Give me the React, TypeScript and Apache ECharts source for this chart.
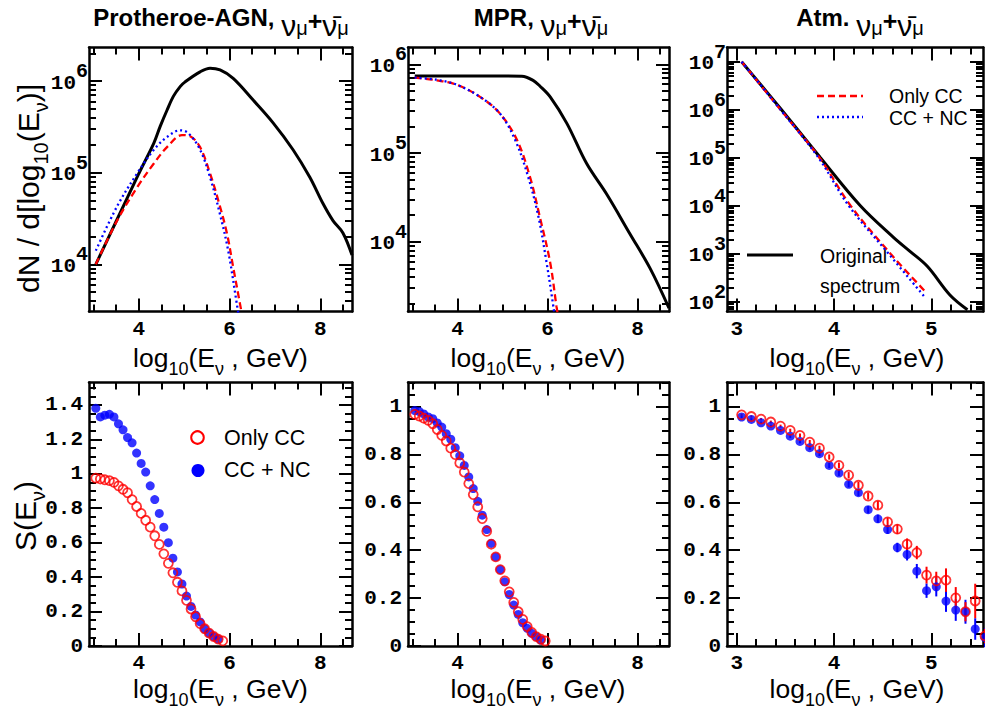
import React, { useEffect, useRef } from "react";
import * as echarts from "echarts";

// ---------------- data ----------------
// Top row: dN / d[log10(E)] spectra (x = log10(E / GeV))
const agnOrigX = [3.05, 3.5, 4.0, 4.33, 4.47, 4.62, 4.76, 4.91, 5.02, 5.35, 5.57, 5.79, 6.08, 6.52, 6.96, 7.4, 7.77, 8.06, 8.28, 8.5, 8.7];
const agnOrigN = [1.0e4, 2.95e4, 9.8e4, 2.1e5, 3.2e5, 4.8e5, 6.8e5, 8.7e5, 9.8e5, 1.26e6, 1.38e6, 1.32e6, 1.07e6, 6.2e5, 3.5e5, 1.78e5, 8.9e4, 4.6e4, 3.0e4, 2.2e4, 1.26e4];
const agnOnlyCCX = [3.05, 3.52, 3.96, 4.33, 4.62, 4.95, 5.13, 5.35, 5.57, 5.75, 5.94, 6.08, 6.23, 6.3];
const agnOnlyCCN = [1.0e4, 3.0e4, 6.9e4, 1.26e5, 1.9e5, 2.57e5, 2.5e5, 1.9e5, 9.8e4, 5.0e4, 2.2e4, 9.3e3, 3.7e3, 2.4e3];
const agnCCNCX = [3.05, 3.52, 3.96, 4.33, 4.62, 4.91, 5.09, 5.35, 5.57, 5.79, 5.97, 6.16, 6.22];
const agnCCNCN = [1.41e4, 4.3e4, 9.8e4, 1.78e5, 2.45e5, 2.9e5, 2.7e5, 1.78e5, 8.9e4, 3.5e4, 1.41e4, 3.7e3, 2.4e3];

const mprOrigX = [3.05, 4.0, 5.0, 5.43, 5.68, 5.83, 6.06, 6.43, 6.87, 7.32, 7.83, 8.28, 8.7];
const mprOrigN = [7.4e5, 7.4e5, 7.4e5, 7.35e5, 6.6e5, 5.7e5, 4.3e5, 2.16e5, 7.6e4, 3.4e4, 1.23e4, 5.0e3, 1.78e3];
const mprOnlyCCX = [3.05, 3.54, 3.98, 4.5, 4.94, 5.32, 5.61, 5.83, 6.06, 6.2, 6.25];
const mprOnlyCCN = [7.1e5, 6.6e5, 5.9e5, 4.3e5, 2.8e5, 1.41e5, 5.4e4, 1.9e4, 5.8e3, 1.86e3, 1.3e3];
const mprCCNCX = [3.05, 3.54, 3.98, 4.5, 4.94, 5.28, 5.57, 5.8, 5.98, 6.13, 6.17];
const mprCCNCN = [7.1e5, 6.7e5, 5.9e5, 4.3e5, 2.8e5, 1.41e5, 5.4e4, 1.9e4, 5.8e3, 1.86e3, 1.3e3];

const atmOrigX = [3.05, 3.46, 3.86, 4.27, 4.61, 4.78, 4.96, 5.19, 5.37];
const atmOrigN = [1.0e7, 1.0e6, 1.0e5, 1.0e4, 2.2e3, 1.12e3, 5.4e2, 1.38e2, 68];
const atmOnlyCCX = [3.05, 3.45, 3.85, 4.17, 4.58, 4.94];
const atmOnlyCCN = [1.0e7, 1.0e6, 1.0e5, 1.0e4, 1.0e3, 1.6e2];
const atmCCNCX = [3.05, 3.45, 3.84, 4.15, 4.56, 4.93];
const atmCCNCN = [1.0e7, 1.0e6, 1.0e5, 1.0e4, 1.0e3, 1.26e2];

// Bottom row: S(E)
const agnSOnlyCCX = [3.05, 3.15, 3.25, 3.35, 3.45, 3.55, 3.65, 3.75, 3.85, 3.95, 4.05, 4.15, 4.25, 4.35, 4.45, 4.55, 4.65, 4.75, 4.85, 4.95, 5.05, 5.15, 5.25, 5.35, 5.45, 5.55, 5.65, 5.75, 5.85];
const agnSOnlyCC = [0.975, 0.97, 0.965, 0.96, 0.95, 0.93, 0.91, 0.89, 0.85, 0.81, 0.77, 0.73, 0.69, 0.64, 0.59, 0.535, 0.48, 0.425, 0.37, 0.32, 0.265, 0.215, 0.17, 0.13, 0.1, 0.075, 0.055, 0.04, 0.03];
const agnSCCNCX = [3.05, 3.15, 3.25, 3.35, 3.45, 3.55, 3.65, 3.75, 3.85, 3.95, 4.05, 4.15, 4.25, 4.35, 4.45, 4.55, 4.65, 4.75, 4.85, 4.95, 5.05, 5.15, 5.25, 5.35, 5.45, 5.55, 5.65, 5.75];
const agnSCCNC = [1.38, 1.33, 1.34, 1.345, 1.33, 1.29, 1.255, 1.21, 1.18, 1.12, 1.06, 1.01, 0.93, 0.85, 0.77, 0.69, 0.6, 0.51, 0.43, 0.36, 0.29, 0.23, 0.18, 0.14, 0.1, 0.075, 0.055, 0.04];

const mprSOnlyCCX = [3.05, 3.15, 3.25, 3.35, 3.45, 3.55, 3.65, 3.75, 3.85, 3.95, 4.05, 4.15, 4.25, 4.35, 4.45, 4.55, 4.65, 4.75, 4.85, 4.95, 5.05, 5.15, 5.25, 5.35, 5.45, 5.55, 5.65, 5.75, 5.85, 5.95];
const mprSOnlyCC = [0.967, 0.96, 0.951, 0.942, 0.928, 0.904, 0.879, 0.856, 0.826, 0.799, 0.764, 0.726, 0.678, 0.632, 0.581, 0.532, 0.479, 0.425, 0.372, 0.319, 0.272, 0.226, 0.182, 0.143, 0.111, 0.081, 0.057, 0.039, 0.028, 0.021];
const mprSCCNCX = [3.05, 3.15, 3.25, 3.35, 3.45, 3.55, 3.65, 3.75, 3.85, 3.95, 4.05, 4.15, 4.25, 4.35, 4.45, 4.55, 4.65, 4.75, 4.85, 4.95, 5.05, 5.15, 5.25, 5.35, 5.45, 5.55, 5.65, 5.75, 5.85];
const mprSCCNC = [0.983, 0.979, 0.969, 0.956, 0.949, 0.931, 0.914, 0.886, 0.863, 0.828, 0.794, 0.754, 0.706, 0.657, 0.604, 0.546, 0.486, 0.428, 0.372, 0.319, 0.268, 0.215, 0.171, 0.132, 0.097, 0.074, 0.053, 0.039, 0.025];

const atmSX = [3.05, 3.15, 3.25, 3.35, 3.45, 3.55, 3.65, 3.75, 3.85, 3.95, 4.05, 4.15, 4.25, 4.35, 4.45, 4.55, 4.65, 4.75, 4.85, 4.95, 5.05, 5.15, 5.25, 5.35, 5.45, 5.55];
const atmSOnlyCC = [0.965, 0.958, 0.947, 0.935, 0.918, 0.9, 0.879, 0.851, 0.826, 0.789, 0.754, 0.713, 0.671, 0.626, 0.588, 0.518, 0.488, 0.425, 0.39, 0.296, 0.272, 0.275, 0.201, 0.143, 0.188, 0.042];
const atmSOnlyCCErr = [0.005, 0.005, 0.005, 0.006, 0.006, 0.007, 0.008, 0.009, 0.01, 0.011, 0.012, 0.013, 0.014, 0.015, 0.017, 0.018, 0.02, 0.024, 0.028, 0.035, 0.038, 0.049, 0.045, 0.04, 0.072, 0.03];
const atmSCCNC = [0.956, 0.946, 0.932, 0.918, 0.9, 0.876, 0.854, 0.828, 0.803, 0.754, 0.722, 0.675, 0.64, 0.569, 0.531, 0.486, 0.411, 0.382, 0.3125, 0.231, 0.247, 0.1875, 0.15, 0.143, 0.071, 0.035];
const atmSCCNCErr = [0.005, 0.005, 0.005, 0.006, 0.006, 0.007, 0.008, 0.009, 0.01, 0.011, 0.012, 0.013, 0.014, 0.015, 0.017, 0.018, 0.02, 0.025, 0.03, 0.03, 0.04, 0.045, 0.045, 0.05, 0.045, 0.04];

// Tick values
const wideXMajor = [4, 6, 8];
const wideXMinor = [3, 3.5, 4.5, 5, 5.5, 6.5, 7, 7.5, 8.5];
const atmXMajor = [3, 4, 5];
const atmXMinor = [3.2, 3.4, 3.6, 3.8, 4.2, 4.4, 4.6, 4.8, 5.2, 5.4];
const sMajorTall = [0, 0.2, 0.4, 0.6, 0.8, 1, 1.2, 1.4];
const sMajorShort = [0, 0.2, 0.4, 0.6, 0.8, 1];

// ---------------- styling ----------------
const SANS = "'Liberation Sans', Arial, Helvetica, sans-serif";
const MONO = "'Liberation Mono', 'DejaVu Sans Mono', monospace";
const RED = "#ff0000";
const BLUE = "#0000ff";

function logMajor(lo: number, hi: number) {
  const out: number[] = [];
  for (let n = Math.ceil(lo); n <= hi; n++) out.push(n);
  return out;
}
function logMinor(lo: number, hi: number) {
  const out: number[] = [];
  for (let n = Math.floor(lo); n <= Math.ceil(hi); n++) {
    for (let k = 2; k <= 9; k++) {
      const v = n + Math.log10(k);
      if (v >= lo && v <= hi) out.push(v);
    }
  }
  return out;
}
function linMinor(hi: number) {
  const out: number[] = [];
  for (let i = 0; i * 0.05 <= hi + 1e-9; i++) {
    if (i % 4 !== 0) out.push(Math.round(i * 5) / 100);
  }
  return out;
}

type Panel = {
  left: number; top: number; width: number; height: number;
  xMin: number; xMax: number; yMin: number; yMax: number;
  xMajor: number[]; xMinor: number[]; yMajor: number[]; yMinor: number[];
  logY: boolean;
};

const panels: Panel[] = [
  { left: 89, top: 47.5, width: 263, height: 264, xMin: 2.9, xMax: 8.7, yMin: 3.485, yMax: 6.366, xMajor: wideXMajor, xMinor: wideXMinor, yMajor: logMajor(3.485, 6.366), yMinor: logMinor(3.485, 6.366), logY: true },
  { left: 408, top: 47.5, width: 261, height: 264, xMin: 2.9, xMax: 8.7, yMin: 3.213, yMax: 6.19, xMajor: wideXMajor, xMinor: wideXMinor, yMajor: logMajor(3.213, 6.19), yMinor: logMinor(3.213, 6.19), logY: true },
  { left: 727, top: 47.5, width: 256, height: 264, xMin: 2.9, xMax: 5.53, yMin: 1.796, yMax: 7.296, xMajor: atmXMajor, xMinor: atmXMinor, yMajor: logMajor(1.796, 7.296), yMinor: logMinor(1.796, 7.296), logY: true },
  { left: 89, top: 382.5, width: 263, height: 263.5, xMin: 2.9, xMax: 8.7, yMin: 0, yMax: 1.53, xMajor: wideXMajor, xMinor: wideXMinor, yMajor: sMajorTall, yMinor: linMinor(1.53), logY: false },
  { left: 408, top: 382.5, width: 261, height: 263.5, xMin: 2.9, xMax: 8.7, yMin: 0, yMax: 1.1, xMajor: wideXMajor, xMinor: wideXMinor, yMajor: sMajorShort, yMinor: linMinor(1.1), logY: false },
  { left: 727, top: 382.5, width: 256, height: 263.5, xMin: 2.9, xMax: 5.53, yMin: 0, yMax: 1.1, xMajor: atmXMajor, xMinor: atmXMinor, yMajor: sMajorShort, yMinor: linMinor(1.1), logY: false },
];

const axisBase = (pi: number) => pi * 4;

const AXIS_LINE = { color: "#000", width: 2.5 };
const TICK = { color: "#000", width: 2 };
const MAJOR_LEN = 13;
const MINOR_LEN = 7;

function buildAxes(p: Panel, pi: number) {
  const xAxes: any[] = [];
  const yAxes: any[] = [];
  const baseX = { gridIndex: pi, type: "value", min: p.xMin, max: p.xMax, splitLine: { show: false } };
  const baseY = { gridIndex: pi, type: "value", min: p.yMin, max: p.yMax, splitLine: { show: false } };
  const tickLabel = { fontFamily: MONO, fontWeight: "bold", fontSize: 21, color: "#000" };
  xAxes.push({
    ...baseX, position: "bottom",
    axisLine: { show: true, onZero: false, lineStyle: AXIS_LINE },
    axisTick: { show: true, inside: true, length: MAJOR_LEN, customValues: p.xMajor, lineStyle: TICK },
    axisLabel: { show: true, customValues: p.xMajor, margin: 9.5, lineHeight: 16, ...tickLabel, formatter: (v: number) => String(v) },
  });
  xAxes.push({
    ...baseX, position: "bottom",
    axisLine: { show: false, onZero: false },
    axisTick: { show: true, inside: true, length: MINOR_LEN, customValues: p.xMinor, lineStyle: TICK },
    axisLabel: { show: false },
  });
  xAxes.push({
    ...baseX, position: "top",
    axisLine: { show: true, onZero: false, lineStyle: AXIS_LINE },
    axisTick: { show: true, inside: true, length: MAJOR_LEN, customValues: p.xMajor, lineStyle: TICK },
    axisLabel: { show: false },
  });
  xAxes.push({
    ...baseX, position: "top",
    axisLine: { show: false, onZero: false },
    axisTick: { show: true, inside: true, length: MINOR_LEN, customValues: p.xMinor, lineStyle: TICK },
    axisLabel: { show: false },
  });

  const yLabel = p.logY
    ? {
        show: true, customValues: p.yMajor, margin: 1,
        formatter: (v: number) => `{b|10}{s|${Math.round(v)}}`,
        rich: {
          b: { fontFamily: MONO, fontWeight: "bold", fontSize: 21, lineHeight: 39, padding: [11, 0, 0, 0], verticalAlign: "top", color: "#000" },
          s: { fontFamily: MONO, fontWeight: "bold", fontSize: 20, lineHeight: 39, verticalAlign: "top", color: "#000" },
        },
      }
    : {
        show: true, customValues: p.yMajor, margin: 6, ...tickLabel,
        formatter: (v: number) => String(Math.round(v * 10) / 10),
      };
  yAxes.push({
    ...baseY, position: "left",
    axisLine: { show: true, onZero: false, lineStyle: AXIS_LINE },
    axisTick: { show: true, inside: true, length: MAJOR_LEN, customValues: p.yMajor, lineStyle: TICK },
    axisLabel: yLabel,
  });
  yAxes.push({
    ...baseY, position: "left",
    axisLine: { show: false, onZero: false },
    axisTick: { show: true, inside: true, length: MINOR_LEN, customValues: p.yMinor, lineStyle: TICK },
    axisLabel: { show: false },
  });
  yAxes.push({
    ...baseY, position: "right",
    axisLine: { show: true, onZero: false, lineStyle: AXIS_LINE },
    axisTick: { show: true, inside: true, length: MAJOR_LEN, customValues: p.yMajor, lineStyle: TICK },
    axisLabel: { show: false },
  });
  yAxes.push({
    ...baseY, position: "right",
    axisLine: { show: false, onZero: false },
    axisTick: { show: true, inside: true, length: MINOR_LEN, customValues: p.yMinor, lineStyle: TICK },
    axisLabel: { show: false },
  });
  return { xAxes, yAxes };
}

function spectrum(pi: number, xs: number[], ns: number[], kind: "orig" | "cc" | "ccnc") {
  const style =
    kind === "orig"
      ? { color: "#000", width: 3, type: "solid" }
      : kind === "cc"
      ? { color: RED, width: 2.3, type: [7, 4] }
      : { color: BLUE, width: 2.3, type: [2, 3] };
  return {
    type: "line", xAxisIndex: axisBase(pi), yAxisIndex: axisBase(pi),
    data: xs.map((x, i) => [x, Math.log10(ns[i])]),
    showSymbol: false, symbol: "none", smooth: 0.35, silent: true,
    lineStyle: style, z: kind === "orig" ? 2 : kind === "cc" ? 3 : 4,
  };
}

function points(pi: number, xs: number[], ss: number[], kind: "cc" | "ccnc") {
  return {
    type: "scatter", xAxisIndex: axisBase(pi), yAxisIndex: axisBase(pi),
    data: xs.map((x, i) => [x, ss[i]]),
    symbol: "circle", symbolSize: 9, silent: true, clip: false,
    itemStyle:
      kind === "cc"
        ? { color: "rgba(255,255,255,0)", borderColor: RED, borderWidth: 1.8 }
        : { color: BLUE },
    z: kind === "cc" ? 5 : 4,
  };
}

function errorBars(pi: number, xs: number[], ss: number[], es: number[], color: string) {
  return {
    type: "custom", xAxisIndex: axisBase(pi), yAxisIndex: axisBase(pi), silent: true,
    data: xs.map((x, i) => [x, ss[i], es[i]]),
    encode: { x: 0, y: 1 },
    renderItem: (_params: any, api: any) => {
      const x = api.value(0);
      const y = api.value(1);
      const e = api.value(2);
      const a = api.coord([x, y - e]);
      const b = api.coord([x, y + e]);
      return {
        type: "line",
        shape: { x1: a[0], y1: a[1], x2: b[0], y2: b[1] },
        style: { stroke: color, lineWidth: 2 },
      };
    },
    z: 3,
  };
}

const titleRich = {
  b: { fontFamily: SANS, fontWeight: "bold", fontSize: 24, lineHeight: 24, verticalAlign: "top", fill: "#000" },
  n: { fontFamily: SANS, fontSize: 30, lineHeight: 24, padding: [5, 0, 0, 0], verticalAlign: "top", fill: "#000" },
  s: { fontFamily: SANS, fontSize: 20, lineHeight: 20, padding: [13, 0, 0, 0], verticalAlign: "top", fill: "#000" },
  p: { fontFamily: SANS, fontWeight: "bold", fontSize: 25, lineHeight: 24, padding: [3, 0, 0, 0], verticalAlign: "top", fill: "#000" },
};
const xTitleRich = {
  t: { fontFamily: SANS, fontSize: 26.5, lineHeight: 26.5, verticalAlign: "top", fill: "#000" },
  s: { fontFamily: SANS, fontSize: 18, lineHeight: 18, padding: [16, 0, 0, 0], verticalAlign: "top", fill: "#000" },
};
const yTitleRich = {
  t: { fontFamily: SANS, fontSize: 30, lineHeight: 30, verticalAlign: "top", fill: "#000" },
  s: { fontFamily: SANS, fontSize: 20, lineHeight: 20, padding: [18, 0, 0, 0], verticalAlign: "top", fill: "#000" },
};

const xTitle = "{t|log}{s|10}{t|(E}{s|ν}{t| , GeV)}";

function buildGraphics() {
  const g: any[] = [];
  const titles = [
    { x: 221, text: "{b|Protheroe-AGN, }{n|ν}{s|μ}{p|+}{n|ν̄}{s|μ}" },
    { x: 541, text: "{b|MPR, }{n|ν}{s|μ}{p|+}{n|ν̄}{s|μ}" },
    { x: 860, text: "{b|Atm. }{n|ν}{s|μ}{p|+}{n|ν̄}{s|μ}" },
  ];
  titles.forEach((t) =>
    g.push({ type: "text", x: t.x, y: 5, style: { text: t.text, rich: titleRich, align: "center", verticalAlign: "top" } })
  );
  [220.5, 538, 857].forEach((cx) => {
    g.push({ type: "text", x: cx, y: 344, style: { text: xTitle, rich: xTitleRich, align: "center", verticalAlign: "top" } });
    g.push({ type: "text", x: cx, y: 675, style: { text: xTitle, rich: xTitleRich, align: "center", verticalAlign: "top" } });
  });
  g.push({
    type: "text", x: 13, y: 188.5, rotation: Math.PI / 2,
    style: { text: "{t|dN / d[log}{s|10}{t|(E}{s|ν}{t|)]}", rich: yTitleRich, align: "center", verticalAlign: "top" },
  });
  g.push({
    type: "text", x: 10, y: 516, rotation: Math.PI / 2,
    style: { text: "{t|S(E}{s|ν}{t|)}", rich: yTitleRich, align: "center", verticalAlign: "top" },
  });

  // legend, top-right panel
  const legFont = { fontFamily: SANS, fontSize: 19.5, fill: "#000", verticalAlign: "middle", align: "left" };
  g.push({ type: "line", shape: { x1: 817, y1: 96, x2: 863, y2: 96 }, style: { stroke: RED, lineWidth: 2.3, lineDash: [7, 4] } });
  g.push({ type: "text", x: 889, y: 96, style: { text: "Only CC", ...legFont } });
  g.push({ type: "line", shape: { x1: 817, y1: 117, x2: 863, y2: 117 }, style: { stroke: BLUE, lineWidth: 2.3, lineDash: [2, 3] } });
  g.push({ type: "text", x: 889, y: 118, style: { text: "CC + NC", ...legFont } });
  g.push({ type: "line", shape: { x1: 747, y1: 255, x2: 793, y2: 255 }, style: { stroke: "#000", lineWidth: 3 } });
  g.push({ type: "text", x: 820, y: 256, style: { text: "Original", ...legFont } });
  g.push({ type: "text", x: 820, y: 286, style: { text: "spectrum", ...legFont } });

  // legend, bottom-left panel
  const legFont2 = { fontFamily: SANS, fontSize: 21.5, fill: "#000", verticalAlign: "middle", align: "left" };
  g.push({ type: "circle", shape: { cx: 197.5, cy: 437.5, r: 6.3 }, style: { fill: "none", stroke: RED, lineWidth: 2 } });
  g.push({ type: "text", x: 224, y: 438, style: { text: "Only CC", ...legFont2 } });
  g.push({ type: "circle", shape: { cx: 198, cy: 470.5, r: 6.5 }, style: { fill: BLUE } });
  g.push({ type: "text", x: 224, y: 470, style: { text: "CC + NC", ...legFont2 } });
  return g;
}

export default function App() {
  const ref = useRef<HTMLDivElement>(null);
  useEffect(() => {
    if (!ref.current) return;
    const chart = echarts.init(ref.current, undefined, { renderer: "svg" });
    const xAxis: any[] = [];
    const yAxis: any[] = [];
    panels.forEach((p, pi) => {
      const { xAxes, yAxes } = buildAxes(p, pi);
      xAxis.push(...xAxes);
      yAxis.push(...yAxes);
    });
    const series: any[] = [
      spectrum(0, agnOrigX, agnOrigN, "orig"),
      spectrum(0, agnOnlyCCX, agnOnlyCCN, "cc"),
      spectrum(0, agnCCNCX, agnCCNCN, "ccnc"),
      spectrum(1, mprOrigX, mprOrigN, "orig"),
      spectrum(1, mprOnlyCCX, mprOnlyCCN, "cc"),
      spectrum(1, mprCCNCX, mprCCNCN, "ccnc"),
      spectrum(2, atmOrigX, atmOrigN, "orig"),
      spectrum(2, atmOnlyCCX, atmOnlyCCN, "cc"),
      spectrum(2, atmCCNCX, atmCCNCN, "ccnc"),
      points(3, agnSCCNCX, agnSCCNC, "ccnc"),
      points(3, agnSOnlyCCX, agnSOnlyCC, "cc"),
      points(4, mprSCCNCX, mprSCCNC, "ccnc"),
      points(4, mprSOnlyCCX, mprSOnlyCC, "cc"),
      errorBars(5, atmSX, atmSCCNC, atmSCCNCErr, BLUE),
      errorBars(5, atmSX, atmSOnlyCC, atmSOnlyCCErr, RED),
      points(5, atmSX, atmSCCNC, "ccnc"),
      points(5, atmSX, atmSOnlyCC, "cc"),
    ];
    chart.setOption({
      animation: false,
      backgroundColor: "#ffffff",
      grid: panels.map((p) => ({
        left: p.left, top: p.top, width: p.width, height: p.height,
        containLabel: false, outerBoundsMode: "none", show: false,
      })),
      xAxis,
      yAxis,
      series,
      graphic: buildGraphics(),
    });
    return () => chart.dispose();
  }, []);
  return <div ref={ref} style={{ position: "fixed", left: 0, top: 0, width: 985, height: 713 }} />;
}
